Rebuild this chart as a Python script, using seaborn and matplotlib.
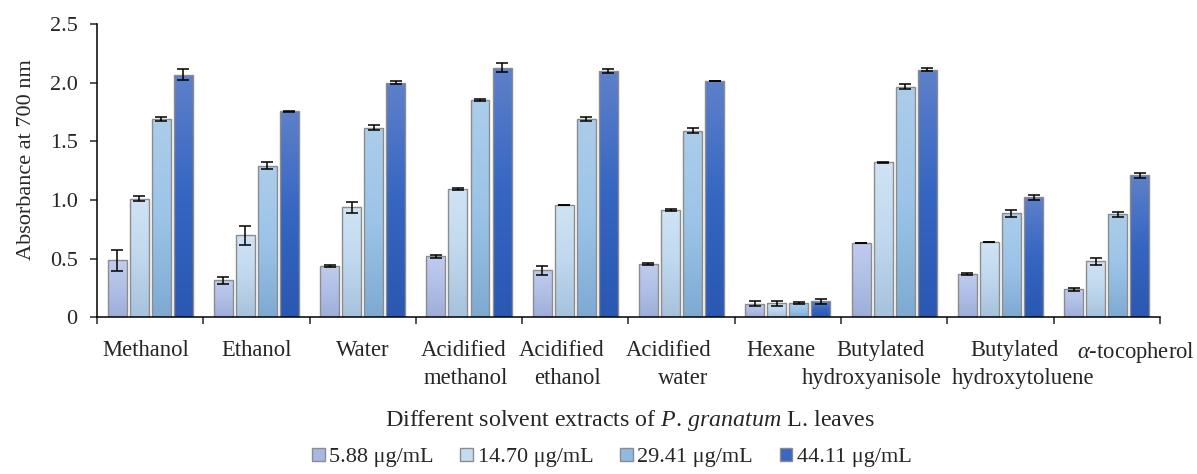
"""Absorbance at 700 nm - reducing power of P. granatum leaf extracts"""

import numpy as np
import pandas as pd
import matplotlib
matplotlib.use("Agg")
import matplotlib.pyplot as plt
import seaborn as sns
from matplotlib.colors import LinearSegmentedColormap
from matplotlib.patches import Patch
from matplotlib.ticker import FuncFormatter


solvents = ["Methanol", "Ethanol", "Water", "Acidified\nmethanol", "Acidified\nethanol",
            "Acidified\nwater", "Hexane", "Butylated\nhydroxyanisole",
            "Butylated\nhydroxytoluene", r"$\alpha$-tocopherol"]
concs = ["5.88 μg/mL", "14.70 μg/mL", "29.41 μg/mL", "44.11 μg/mL"]

val_588 = [0.486, 0.316, 0.438, 0.518, 0.398, 0.455, 0.114, 0.634, 0.367, 0.236]
val_1470 = [1.010, 0.697, 0.936, 1.092, 0.961, 0.916, 0.117, 1.320, 0.643, 0.475]
val_2941 = [1.690, 1.290, 1.618, 1.854, 1.692, 1.590, 0.120, 1.968, 0.885, 0.876]
val_4411 = [2.070, 1.755, 2.002, 2.130, 2.099, 2.011, 0.134, 2.113, 1.021, 1.209]

err_588 = [0.090, 0.030, 0.010, 0.010, 0.040, 0.010, 0.020, 0.000, 0.010, 0.010]
err_1470 = [0.020, 0.080, 0.050, 0.010, 0.000, 0.010, 0.020, 0.005, 0.000, 0.030]
err_2941 = [0.015, 0.030, 0.020, 0.010, 0.020, 0.020, 0.010, 0.020, 0.030, 0.020]
err_4411 = [0.050, 0.005, 0.015, 0.040, 0.015, 0.000, 0.020, 0.010, 0.020, 0.020]

values = [val_588, val_1470, val_2941, val_4411]
errors = [err_588, err_1470, err_2941, err_4411]

df = pd.DataFrame({
    "solvent": np.tile(solvents, len(concs)),
    "conc": np.repeat(concs, len(solvents)),
    "value": np.concatenate(values),
})

# gradient stops (top, middle, bottom) and flat colour for the legend
grads = [("#bfccee", "#b0bfe6", "#9daed9"),
         ("#d0e3f4", "#c0d8ee", "#a6c2dc"),
         ("#abcdea", "#9cc4e8", "#7eaad2"),
         ("#5e80ca", "#3566c2", "#2a58b2")]
flat = ["#a9b8e3", "#c4dcf0", "#8fbbe2", "#3a66c4"]

sns.set_style("white")
plt.rcParams["font.family"] = ["Liberation Serif", "DejaVu Serif"]
plt.rcParams["mathtext.fontset"] = "custom"
plt.rcParams["mathtext.rm"] = "Liberation Serif"
plt.rcParams["mathtext.it"] = "Liberation Serif:italic"

fig = plt.figure(figsize=(11.97, 4.74), dpi=100)
ax = fig.add_axes([0.081, 0.331, 0.888, 0.618])

sns.barplot(data=df, x="solvent", y="value", hue="conc", palette=flat,
            width=0.83, gap=0.14, errorbar=None, edgecolor="#8c8c8c",
            linewidth=1.0, legend=False, ax=ax)

bar_containers = list(ax.containers)
for i, cont in enumerate(bar_containers):
    cmap = LinearSegmentedColormap.from_list(f"g{i}", grads[i][::-1])
    grad = np.linspace(0, 1, 100).reshape(-1, 1)
    xs, hs = [], []
    for bar in cont:
        x, w, h = bar.get_x(), bar.get_width(), bar.get_height()
        im = ax.imshow(grad, extent=[x, x + w, 0, h], origin="lower", aspect="auto",
                       cmap=cmap, zorder=bar.get_zorder() + 0.1)
        im.set_clip_path(bar)
        bar.set_facecolor("none")
        bar.set_zorder(bar.get_zorder() + 0.2)
        xs.append(x + w / 2)
        hs.append(h)
    ax.errorbar(xs, hs, yerr=errors[i], fmt="none", ecolor="black",
                elinewidth=1.1, capsize=4.3, capthick=1.1, zorder=5)

ax.set_xlim(-0.5, len(solvents) - 0.5)
ax.set_ylim(0, 2.5)
ax.set_yticks(np.arange(0, 2.51, 0.5))
ax.yaxis.set_major_formatter(FuncFormatter(lambda v, p: "0" if v == 0 else f"{v:.1f}"))
ax.set_xticks(np.arange(-0.5, len(solvents), 1), minor=True)

sns.despine(ax=ax)
for s in ["left", "bottom"]:
    ax.spines[s].set_color("black")
    ax.spines[s].set_linewidth(1.1)

ax.tick_params(axis="y", which="major", direction="out", length=5, width=1.1,
               left=True, labelsize=16, pad=9)
ax.tick_params(axis="x", which="minor", direction="out", length=5, width=1.1, bottom=True)

# category labels wrapped like Excel: first line as tick label, second line below
first = [s.split("\n")[0] for s in solvents]
second = [s.split("\n")[1] if "\n" in s else "" for s in solvents]
nudge1 = [-4, 0, 0, -5, -14, -13, -7, -14, 14, 29]   # px
nudge2 = [0, 0, 0, -3, -8, 2, 0, -22, 23, 0]          # px
px = 72 / 100

ax.set_xticks(range(len(solvents)), ["" for _ in solvents])
ax.tick_params(axis="x", which="major", length=0)
for i in range(len(solvents)):
    ax.annotate(first[i], xy=(i, 0), xycoords=("data", "axes fraction"),
                xytext=(nudge1[i] * px, -16.3), textcoords="offset points",
                ha="center", va="top", fontsize=16.3)
    if second[i]:
        ax.annotate(second[i], xy=(i, 0), xycoords=("data", "axes fraction"),
                    xytext=(nudge2[i] * px, -16.3 - 28.3 * px), textcoords="offset points",
                    ha="center", va="top", fontsize=16.3)

ax.set_ylabel("Absorbance at 700 nm", fontsize=16, labelpad=10, y=0.539)
ax.set_xlabel(r"Different solvent extracts of $\it{P}$. $\it{granatum}$ L. leaves",
              fontsize=17.3, va="top")
ax.xaxis.set_label_coords(0.5015, -0.309)

handles = [Patch(facecolor=flat[i], edgecolor="#8c8c8c", linewidth=1.0, label=concs[i])
           for i in range(len(concs))]
fig.legend(handles=handles, loc="center", bbox_to_anchor=(0.511, 0.035), ncol=4,
           frameon=False, fontsize=16, handlelength=0.58, handleheight=0.58,
           handletextpad=0.2, columnspacing=1.2)

fig.savefig("out.png", dpi=100)
